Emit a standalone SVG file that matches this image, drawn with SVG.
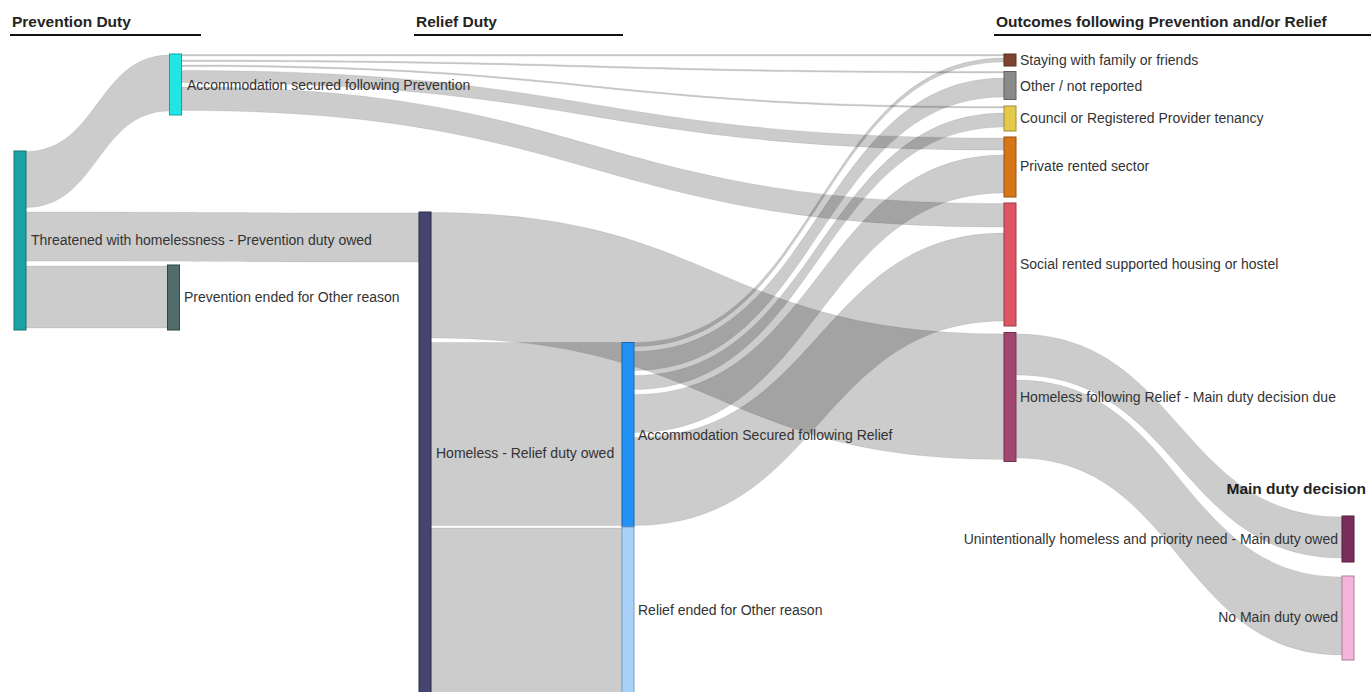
<svg xmlns="http://www.w3.org/2000/svg" width="1371" height="692" viewBox="0 0 1371 692">
<style>
.lnk{fill:#000;fill-opacity:0.2;stroke:#000;stroke-opacity:0.08;stroke-width:1}
.nd{stroke-width:1}
.lbl{font-family:"Liberation Sans",Arial,sans-serif;font-size:14px;fill:#333}
.hdr{font-family:"Liberation Sans",Arial,sans-serif;font-size:15.5px;font-weight:bold;fill:#252423}
.ul{stroke:#111;stroke-width:2}
</style>
<rect width="1371" height="692" fill="#fff"/>
<g id="headers">
<text class="hdr" x="12" y="27">Prevention Duty</text>
<line class="ul" x1="10" y1="35" x2="201" y2="35"/>
<text class="hdr" x="416" y="27">Relief Duty</text>
<line class="ul" x1="414" y1="35" x2="623" y2="35"/>
<text class="hdr" x="996" y="27">Outcomes following Prevention and/or Relief</text>
<line class="ul" x1="994" y1="35" x2="1371" y2="35"/>
<text class="hdr" x="1366" y="494" text-anchor="end">Main duty decision</text>
</g>
<g id="connectors">
<path class="lnk" d="M26,151.5 C97.75,151.5 97.75,55 169.5,55 L169.5,111 C97.75,111 97.75,207.5 26,207.5 Z"/>
<path class="lnk" d="M26,212 C222.5,212 222.5,213 419,213 L419,262 C222.5,262 222.5,261 26,261 Z"/>
<path class="lnk" d="M26,266 C96.75,266 96.75,266 167.5,266 L167.5,328 C96.75,328 96.75,328 26,328 Z"/>
<path class="lnk" d="M182,54.5 C593,54.5 593,54.5 1004,54.5 L1004,56 C593,56 593,56 182,56 Z"/>
<path class="lnk" d="M182,60 C593,60 593,71.5 1004,71.5 L1004,73 C593,73 593,61.5 182,61.5 Z"/>
<path class="lnk" d="M182,65 C593,65 593,106.5 1004,106.5 L1004,108 C593,108 593,66.5 182,66.5 Z"/>
<path class="lnk" d="M182,70.5 C593,70.5 593,138 1004,138 L1004,150 C593,150 593,82.5 182,82.5 Z"/>
<path class="lnk" d="M182,87 C593,87 593,203.5 1004,203.5 L1004,227 C593,227 593,110.5 182,110.5 Z"/>
<path class="lnk" d="M431,212.5 C717.5,212.5 717.5,334 1004,334 L1004,459.5 C717.5,459.5 717.5,338 431,338 Z"/>
<path class="lnk" d="M431,342.5 C526.5,342.5 526.5,342.5 622,342.5 L622,525.5 C526.5,525.5 526.5,525.5 431,525.5 Z"/>
<path class="lnk" d="M431,528 C526.5,528 526.5,528 622,528 L622,694 C526.5,694 526.5,694 431,694 Z"/>
<path class="lnk" d="M634.5,342.5 C819.25,342.5 819.25,58 1004,58 L1004,62 C819.25,62 819.25,346.5 634.5,346.5 Z"/>
<path class="lnk" d="M634.5,351.5 C819.25,351.5 819.25,78 1004,78 L1004,97 C819.25,97 819.25,370.5 634.5,370.5 Z"/>
<path class="lnk" d="M634.5,375.5 C819.25,375.5 819.25,113 1004,113 L1004,127 C819.25,127 819.25,389.5 634.5,389.5 Z"/>
<path class="lnk" d="M634.5,394.5 C819.25,394.5 819.25,155 1004,155 L1004,193 C819.25,193 819.25,432.5 634.5,432.5 Z"/>
<path class="lnk" d="M634.5,437.5 C819.25,437.5 819.25,233 1004,233 L1004,321 C819.25,321 819.25,525.5 634.5,525.5 Z"/>
<path class="lnk" d="M1016.5,334 C1179.25,334 1179.25,517 1342,517 L1342,558 C1179.25,558 1179.25,375 1016.5,375 Z"/>
<path class="lnk" d="M1016.5,380 C1179.25,380 1179.25,577 1342,577 L1342,655 C1179.25,655 1179.25,458 1016.5,458 Z"/>
</g>
<g id="n-threatened"><rect class="nd" x="14" y="151" width="12" height="179" fill="#1ba1a1" stroke="#137777"/><text class="lbl" x="31" y="245">Threatened with homelessness - Prevention duty owed</text></g>
<g id="n-accprev"><rect class="nd" x="169.5" y="54" width="12" height="61" fill="#1fe5e5" stroke="#15a3a3"/><text class="lbl" x="187" y="90">Accommodation secured following Prevention</text></g>
<g id="n-prevended"><rect class="nd" x="167.5" y="265" width="12" height="65" fill="#506c6c" stroke="#2f4545"/><text class="lbl" x="184" y="302">Prevention ended for Other reason</text></g>
<g id="n-homelessrelief"><rect class="nd" x="419" y="212" width="12" height="482" fill="#45456f" stroke="#2c2c4d"/><text class="lbl" x="436" y="458">Homeless - Relief duty owed</text></g>
<g id="n-accrelief"><rect class="nd" x="622" y="342.5" width="12" height="184.5" fill="#2291f2" stroke="#1766ad"/><text class="lbl" x="638" y="440">Accommodation Secured following Relief</text></g>
<g id="n-reliefended"><rect class="nd" x="622" y="527" width="12" height="167" fill="#a9d1f7" stroke="#7ba0c3"/><text class="lbl" x="638" y="615">Relief ended for Other reason</text></g>
<g id="n-staying"><rect class="nd" x="1004" y="54" width="12" height="12" fill="#7c4430" stroke="#57301f"/><text class="lbl" x="1020" y="65">Staying with family or friends</text></g>
<g id="n-other"><rect class="nd" x="1004" y="71.5" width="12" height="28" fill="#8a8a8a" stroke="#616161"/><text class="lbl" x="1020" y="90.5">Other / not reported</text></g>
<g id="n-council"><rect class="nd" x="1004" y="106" width="12" height="25" fill="#e5c94b" stroke="#a18c33"/><text class="lbl" x="1020" y="123">Council or Registered Provider tenancy</text></g>
<g id="n-private"><rect class="nd" x="1004" y="137" width="12" height="60" fill="#d67619" stroke="#965311"/><text class="lbl" x="1020" y="171">Private rented sector</text></g>
<g id="n-social"><rect class="nd" x="1004" y="203" width="12" height="123" fill="#de5566" stroke="#9c3b47"/><text class="lbl" x="1020" y="269">Social rented supported housing or hostel</text></g>
<g id="n-hfr"><rect class="nd" x="1004" y="332.5" width="12" height="129" fill="#a1476f" stroke="#71324e"/><text class="lbl" x="1020" y="402">Homeless following Relief - Main duty decision due</text></g>
<g id="n-uhp"><rect class="nd" x="1342" y="516" width="12" height="46" fill="#7a2d5c" stroke="#551f40"/><text class="lbl" x="1338" y="544" text-anchor="end">Unintentionally homeless and priority need - Main duty owed</text></g>
<g id="n-nmd"><rect class="nd" x="1342" y="576" width="12" height="84" fill="#f3b6da" stroke="#aa7f99"/><text class="lbl" x="1338" y="622" text-anchor="end">No Main duty owed</text></g>
</svg>
